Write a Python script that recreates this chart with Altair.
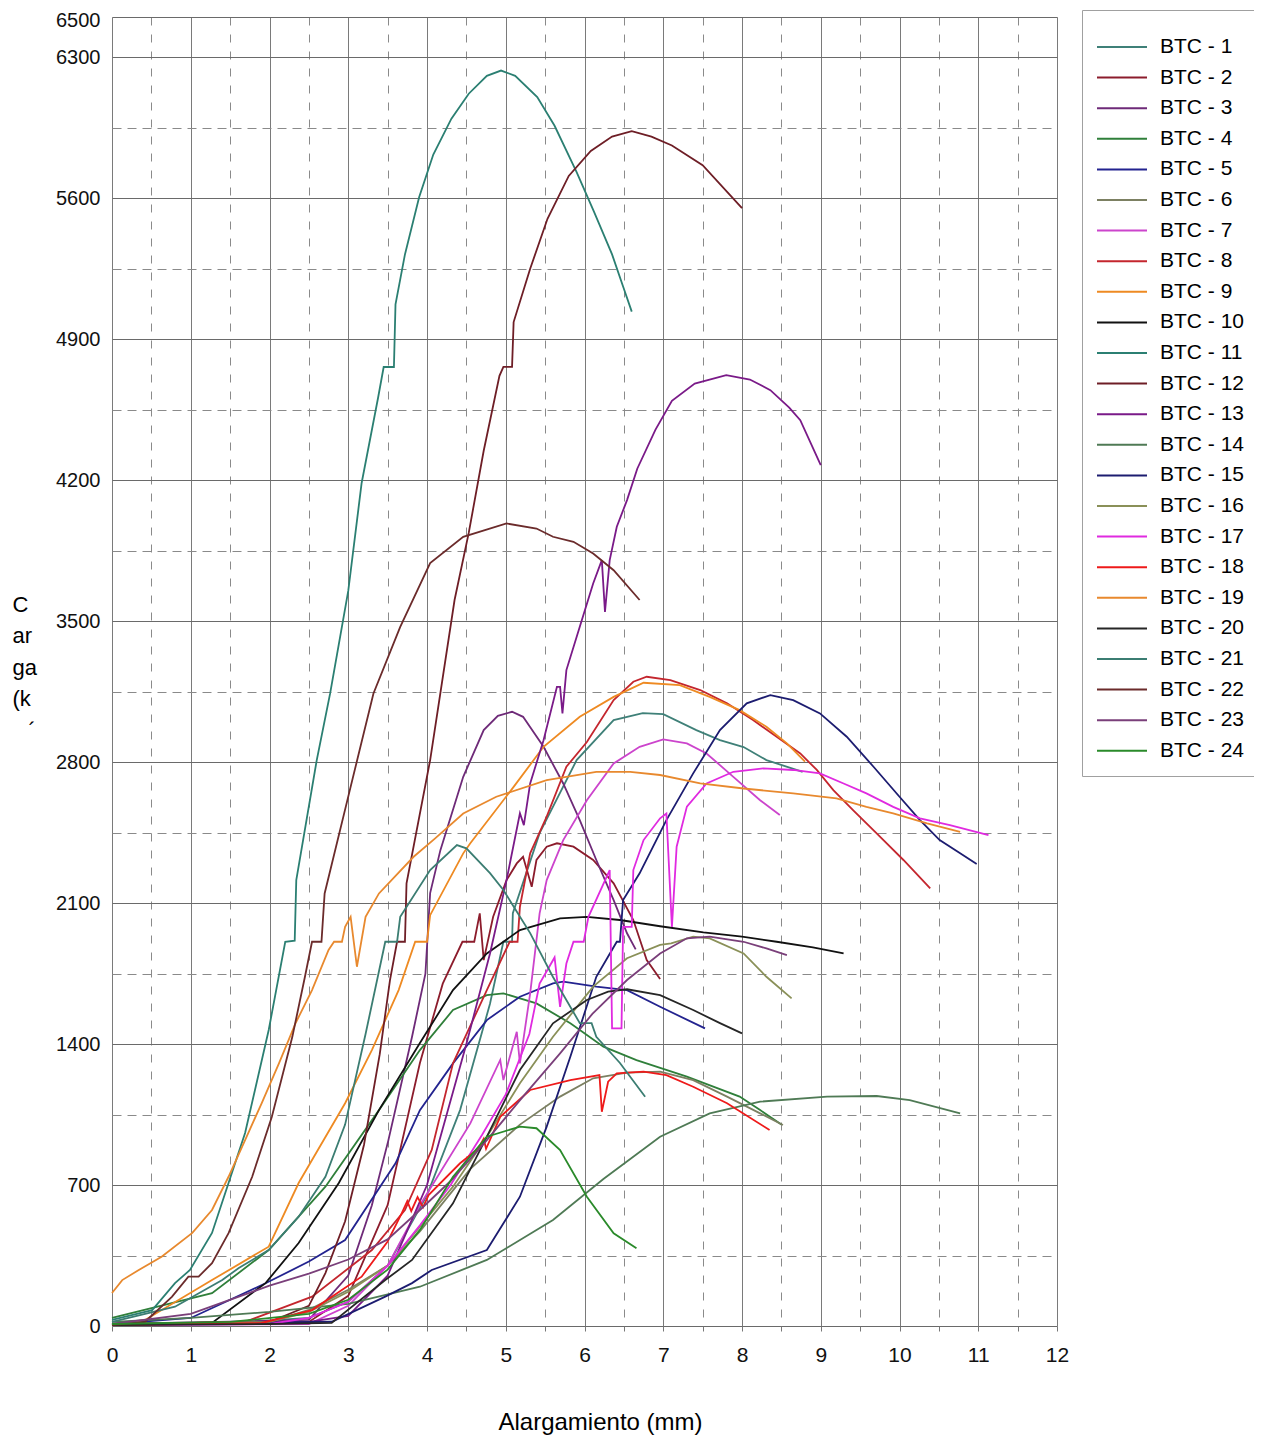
import altair as alt
import pandas as pd

# ---------------- data ----------------
BTC01_X = [0, 1.5, 2.5, 3.0, 3.5, 4.0, 4.42, 4.8, 4.97, 5.08, 5.09, 5.43, 5.9, 6.37, 6.74, 7.0, 7.42, 7.72, 8.02, 8.31, 8.77]
BTC01_Y = [10, 15, 40, 120, 300, 650, 1072, 1600, 1908, 1908, 2050, 2447, 2810, 3009, 3043, 3038, 2959, 2909, 2875, 2810, 2752]

BTC02_X = [0, 2.5, 3.0, 3.5, 3.91, 4.2, 4.45, 4.60, 4.67, 4.72, 4.84, 5.01, 5.14, 5.22, 5.33, 5.39, 5.52, 5.65, 5.86, 6.11, 6.37, 6.62, 6.79, 6.96]
BTC02_Y = [10, 20, 150, 600, 1306, 1700, 1908, 1908, 2049, 1817, 2032, 2214, 2297, 2330, 2181, 2314, 2380, 2397, 2380, 2314, 2198, 2016, 1817, 1723]

BTC03_X = [0, 2.5, 3.0, 3.3, 3.51, 3.81, 3.98, 4.04, 4.17, 4.46, 4.72, 4.9, 5.08, 5.22, 5.48, 5.73, 5.94, 6.15, 6.37, 6.54, 6.65]
BTC03_Y = [10, 30, 250, 600, 923, 1436, 1750, 2150, 2363, 2727, 2959, 3030, 3050, 3025, 2876, 2694, 2512, 2314, 2115, 1950, 1870]

BTC04_X = [0, 1.27, 1.99, 2.71, 3.39, 3.91, 4.33, 4.76, 4.97, 5.39, 5.82, 6.24, 6.66, 7.30, 7.97, 8.23, 8.5]
BTC04_Y = [40, 163, 377, 692, 1072, 1370, 1569, 1643, 1652, 1602, 1503, 1387, 1320, 1238, 1139, 1072, 1000]

BTC05_X = [0, 1.0, 1.95, 2.5, 2.96, 3.60, 3.91, 4.33, 4.76, 5.18, 5.6, 5.73, 6.15, 6.54, 6.96, 7.53]
BTC05_Y = [10, 40, 212, 320, 427, 808, 1072, 1304, 1519, 1635, 1701, 1710, 1685, 1668, 1585, 1478]

BTC06_X = [0, 2.0, 2.5, 3.0, 3.5, 3.91, 4.55, 5.18, 5.69, 6.11, 6.54, 6.96, 7.38, 7.81, 8.23, 8.52]
BTC06_Y = [10, 20, 80, 180, 300, 470, 780, 1000, 1139, 1230, 1258, 1263, 1221, 1139, 1056, 998]

BTC07_X = [0, 2.5, 3.0, 3.5, 3.91, 4.55, 4.93, 4.97, 5.14, 5.18, 5.31, 5.43, 5.52, 5.73, 6.03, 6.37, 6.70, 7.0, 7.30, 7.55, 7.89, 8.23, 8.48]
BTC07_Y = [5, 10, 100, 300, 600, 1006, 1321, 1221, 1461, 1304, 1652, 2049, 2214, 2413, 2611, 2793, 2876, 2913, 2893, 2843, 2727, 2611, 2537]

BTC08_X = [0, 1.69, 2.54, 3.30, 3.72, 4.06, 4.33, 4.76, 5.05, 5.15, 5.18, 5.31, 5.52, 5.77, 6.03, 6.37, 6.62, 6.79, 7.09, 7.47, 7.81, 8.14, 8.44, 8.74, 8.95, 9.16, 9.41, 9.71, 10.05, 10.39]
BTC08_Y = [5, 21, 146, 377, 576, 874, 1304, 1668, 1908, 1908, 2082, 2347, 2529, 2777, 2900, 3108, 3199, 3224, 3207, 3158, 3092, 3009, 2926, 2843, 2761, 2661, 2562, 2446, 2314, 2173]

BTC09_X = [0, 0.42, 1.27, 1.99, 2.37, 2.96, 3.30, 3.64, 3.85, 4.0, 4.04, 4.46, 4.55, 5.10, 5.48, 5.94, 6.37, 6.75, 7.21, 7.59, 7.97, 8.31, 8.57, 8.80]
BTC09_Y = [5, 30, 228, 394, 710, 1106, 1370, 1668, 1908, 1908, 2040, 2347, 2397, 2677, 2876, 3025, 3124, 3194, 3182, 3124, 3058, 2976, 2893, 2802]

BTC10_X = [0, 1.27, 1.95, 2.37, 2.88, 3.39, 3.91, 4.33, 4.76, 5.18, 5.69, 6.03, 6.45, 6.96, 7.51, 8.0, 8.44, 8.9, 9.29]
BTC10_Y = [5, 15, 213, 412, 710, 1072, 1405, 1668, 1850, 1966, 2024, 2032, 2016, 1985, 1955, 1933, 1908, 1880, 1850]

BTC11_X = [0, 0.51, 0.8, 0.99, 1.27, 1.48, 1.69, 1.99, 2.20, 2.32, 2.34, 2.60, 2.77, 3.0, 3.17, 3.38, 3.45, 3.58, 3.60, 3.72, 3.90, 4.08, 4.31, 4.53, 4.76, 4.94, 5.12, 5.40, 5.62, 5.90, 6.12, 6.35, 6.49, 6.60]
BTC11_Y = [30, 79, 213, 278, 462, 710, 958, 1470, 1908, 1913, 2214, 2810, 3141, 3650, 4186, 4612, 4762, 4762, 5073, 5321, 5605, 5817, 5995, 6119, 6208, 6234, 6208, 6102, 5960, 5730, 5534, 5321, 5162, 5037]

BTC12_X = [0, 2.0, 2.5, 2.71, 2.96, 3.2, 3.4, 3.53, 3.62, 3.72, 3.74, 4.04, 4.35, 4.53, 4.72, 4.92, 4.97, 5.08, 5.10, 5.31, 5.53, 5.80, 6.08, 6.35, 6.60, 6.85, 7.11, 7.5, 8.0]
BTC12_Y = [10, 20, 100, 263, 520, 900, 1350, 1718, 1908, 1908, 2198, 2810, 3605, 3938, 4346, 4718, 4763, 4763, 4985, 5250, 5498, 5711, 5835, 5906, 5933, 5906, 5862, 5764, 5551]

BTC13_X = [0, 2.5, 3.0, 3.5, 4.0, 4.5, 4.8, 5.01, 5.18, 5.23, 5.31, 5.48, 5.65, 5.69, 5.72, 5.77, 5.94, 6.11, 6.22, 6.26, 6.32, 6.41, 6.54, 6.67, 6.9, 7.11, 7.4, 7.8, 8.1, 8.36, 8.6, 8.74, 9.0]
BTC13_Y = [10, 20, 50, 250, 700, 1400, 1850, 2214, 2546, 2487, 2694, 2909, 3174, 3174, 3042, 3257, 3472, 3687, 3803, 3546, 3803, 3969, 4101, 4257, 4450, 4594, 4680, 4722, 4700, 4647, 4560, 4498, 4275]

BTC14_X = [0, 1.0, 2.0, 3.0, 3.91, 4.76, 5.60, 6.24, 6.96, 7.59, 8.23, 9.08, 9.71, 10.13, 10.77]
BTC14_Y = [20, 40, 70, 110, 195, 328, 526, 730, 940, 1056, 1114, 1139, 1142, 1122, 1056]

BTC15_X = [0, 2.79, 3.47, 3.81, 4.06, 4.76, 5.18, 5.52, 5.82, 6.15, 6.41, 6.45, 6.49, 6.70, 7.04, 7.38, 7.72, 8.06, 8.36, 8.65, 8.99, 9.33, 9.67, 10.0, 10.26, 10.51, 10.77, 10.98]
BTC15_Y = [10, 21, 146, 213, 278, 377, 642, 990, 1337, 1734, 1908, 1908, 2115, 2248, 2512, 2744, 2959, 3092, 3133, 3108, 3042, 2926, 2777, 2628, 2512, 2413, 2347, 2294]

BTC16_X = [0, 2.0, 2.5, 3.0, 3.5, 3.91, 4.33, 4.76, 5.18, 5.6, 6.11, 6.54, 6.96, 7.1, 7.38, 7.59, 8.02, 8.31, 8.63]
BTC16_Y = [10, 20, 70, 170, 300, 493, 692, 940, 1205, 1436, 1685, 1826, 1892, 1900, 1933, 1925, 1850, 1734, 1627]

BTC17_X = [0, 2.0, 2.5, 3.0, 3.5, 3.91, 4.3, 4.7, 5.0, 5.3, 5.43, 5.62, 5.69, 5.77, 5.86, 5.99, 6.05, 6.32, 6.35, 6.47, 6.49, 6.60, 6.62, 6.75, 6.96, 7.04, 7.11, 7.17, 7.30, 7.55, 7.89, 8.27, 8.65, 8.99, 9.29, 9.58, 9.92, 10.26, 10.64, 11.13]
BTC17_Y = [5, 10, 40, 120, 300, 500, 700, 950, 1150, 1450, 1700, 1830, 1585, 1800, 1908, 1908, 2032, 2264, 1478, 1478, 1982, 1982, 2264, 2413, 2521, 2545, 1982, 2380, 2579, 2694, 2752, 2769, 2761, 2744, 2694, 2645, 2578, 2521, 2487, 2438]

BTC18_X = [0, 1.9, 2.54, 3.17, 3.5, 3.68, 3.75, 3.8, 3.88, 3.95, 4.02, 4.42, 4.65, 4.72, 4.75, 4.93, 5.31, 5.82, 6.19, 6.22, 6.30, 6.41, 6.75, 7.04, 7.38, 7.81, 8.35]
BTC18_Y = [5, 15, 79, 245, 420, 560, 620, 570, 640, 590, 650, 808, 880, 930, 880, 1039, 1172, 1221, 1246, 1064, 1213, 1255, 1263, 1246, 1188, 1106, 973]

BTC19_X = [0, 0.13, 0.34, 0.63, 1.02, 1.27, 1.48, 1.69, 1.90, 2.12, 2.33, 2.54, 2.75, 2.82, 2.92, 2.96, 3.03, 3.11, 3.22, 3.39, 3.83, 4.1, 4.46, 4.88, 5.52, 6.15, 6.58, 6.96, 7.47, 8.02, 8.65, 9.2, 9.58, 9.92, 10.35, 10.77]
BTC19_Y = [164, 228, 278, 344, 462, 576, 741, 923, 1106, 1304, 1503, 1668, 1867, 1908, 1908, 1982, 2032, 1784, 2032, 2148, 2330, 2420, 2545, 2628, 2711, 2752, 2752, 2736, 2694, 2669, 2645, 2620, 2578, 2545, 2496, 2454]

BTC20_X = [0, 2.0, 2.79, 3.47, 3.81, 4.33, 4.76, 5.18, 5.6, 6.03, 6.3, 6.54, 6.96, 7.38, 7.72, 8.0]
BTC20_Y = [5, 10, 15, 228, 328, 609, 940, 1271, 1503, 1619, 1660, 1672, 1643, 1569, 1504, 1453]

BTC21_X = [0, 0.8, 1.40, 1.61, 1.99, 2.37, 2.71, 2.96, 3.22, 3.47, 3.62, 3.66, 4.04, 4.38, 4.50, 4.80, 4.97, 5.31, 5.60, 5.94, 6.09, 6.15, 6.45, 6.77]
BTC21_Y = [20, 96, 228, 288, 377, 543, 741, 1000, 1450, 1908, 1908, 2032, 2264, 2388, 2372, 2249, 2165, 1951, 1733, 1504, 1504, 1436, 1306, 1138]

BTC22_X = [0, 0.42, 0.76, 0.97, 1.10, 1.27, 1.48, 1.78, 2.03, 2.29, 2.45, 2.54, 2.66, 2.70, 3.02, 3.32, 3.66, 4.04, 4.46, 5.01, 5.39, 5.60, 5.86, 6.11, 6.37, 6.70]
BTC22_Y = [5, 21, 145, 245, 245, 312, 461, 741, 1039, 1436, 1734, 1908, 1908, 2148, 2661, 3141, 3472, 3788, 3919, 3985, 3960, 3919, 3894, 3836, 3753, 3605]

BTC23_X = [0, 1.0, 2.0, 2.5, 3.0, 3.5, 3.91, 4.3, 4.76, 5.2, 5.69, 6.1, 6.54, 6.96, 7.30, 7.59, 8.02, 8.31, 8.57]
BTC23_Y = [10, 60, 200, 260, 330, 430, 576, 720, 923, 1130, 1354, 1550, 1718, 1850, 1925, 1933, 1908, 1875, 1842]

BTC24_X = [0, 1.5, 2.5, 3.0, 3.5, 3.91, 4.33, 4.76, 5.18, 5.39, 5.69, 6.03, 6.37, 6.66]
BTC24_Y = [10, 20, 60, 130, 280, 477, 741, 940, 990, 982, 874, 642, 460, 386]

SERIES_NAMES = [f"BTC - {i}" for i in range(1, 25)]
SERIES_COLORS = [
    "#3f8078", "#8c1c2c", "#6e2a78", "#2f7f3a", "#23238f", "#7c8062",
    "#cc44cc", "#c4262e", "#ee8a22", "#111111", "#2b7f72", "#6e1e26",
    "#7a1a88", "#4f7a55", "#1c1c70", "#8a9058", "#e02ae0", "#ee1a1a",
    "#e8892e", "#262626", "#3b7d72", "#6b2b2b", "#7a3f7a", "#2a8a2a",
]
ALL_XY = [
    (BTC01_X, BTC01_Y), (BTC02_X, BTC02_Y), (BTC03_X, BTC03_Y), (BTC04_X, BTC04_Y),
    (BTC05_X, BTC05_Y), (BTC06_X, BTC06_Y), (BTC07_X, BTC07_Y), (BTC08_X, BTC08_Y),
    (BTC09_X, BTC09_Y), (BTC10_X, BTC10_Y), (BTC11_X, BTC11_Y), (BTC12_X, BTC12_Y),
    (BTC13_X, BTC13_Y), (BTC14_X, BTC14_Y), (BTC15_X, BTC15_Y), (BTC16_X, BTC16_Y),
    (BTC17_X, BTC17_Y), (BTC18_X, BTC18_Y), (BTC19_X, BTC19_Y), (BTC20_X, BTC20_Y),
    (BTC21_X, BTC21_Y), (BTC22_X, BTC22_Y), (BTC23_X, BTC23_Y), (BTC24_X, BTC24_Y),
]

X_TICKS = [i * 0.5 for i in range(25)]
Y_TICKS = [i * 350 for i in range(19)] + [6500]
Y_TITLE = ["C", "ar", "ga", "(k", "\u2800\u00b4"]

rows = []
for name, (xs, ys) in zip(SERIES_NAMES, ALL_XY):
    for i, (xv, yv) in enumerate(zip(xs, ys)):
        rows.append({"serie": name, "x": xv, "y": yv, "o": i})
df = pd.DataFrame(rows)

FONT = "Liberation Sans"

x_axis = alt.Axis(
    values=X_TICKS,
    labelExpr="datum.value % 1 == 0 ? format(datum.value, 'd') : ''",
    title="Alargamiento (mm)",
    titleFont=FONT, titleFontSize=24, titleFontWeight="normal", titleColor="#000",
    titleX=488, titleY=96, titleAlign="center", titleBaseline="middle",
    labelFont=FONT, labelFontSize=21, labelColor="#111", labelPadding=13,
    labelFlush=False, labelOverlap=False,
    ticks=True, tickSize=5, tickColor="#777",
    domain=False,
    grid=True,
    gridDash={"condition": {"test": "datum.value % 1 != 0", "value": [8, 9]}, "value": []},
    gridColor={"condition": {"test": "datum.value % 1 != 0", "value": "#8a8a8a"}, "value": "#7a7a7a"},
    gridWidth=1,
)

y_axis = alt.Axis(
    values=Y_TICKS,
    labelExpr="(datum.value % 700 == 0 || datum.value == 6500) ? format(datum.value, 'd') : ''",
    title=Y_TITLE,
    titleFont=FONT, titleFontSize=22, titleFontWeight="normal", titleColor="#000",
    titleAngle=0, titleAlign="left", titleBaseline="top", titleX=-100, titleY=577,
    titleLineHeight=31.5,
    labelFont=FONT, labelFontSize=20, labelColor="#111", labelPadding=12,
    labelOffset={"condition": {"test": "datum.value == 6500", "value": 3}, "value": 0},
    labelFlush=False, labelOverlap=False,
    ticks=False, domain=False,
    grid=True,
    gridDash={"condition": {"test": "datum.value % 700 == 0 || datum.value == 6500", "value": []}, "value": [9, 6]},
    gridColor={"condition": {"test": "datum.value % 700 == 0 || datum.value == 6500", "value": "#6a6a6a"}, "value": "#8a8a8a"},
    gridWidth=1,
)

legend = alt.Legend(
    title=" ", titleFontSize=7, titlePadding=5,
    orient="none", legendX=970, legendY=-7,
    symbolType="stroke", symbolSize=2500, symbolStrokeWidth=2,
    clipHeight=22, rowPadding=8.6, labelOffset=12,
    labelFont=FONT, labelFontSize=21, labelColor="#000", labelLimit=200,
    padding=14, strokeColor="#a0a0a0", fillColor="#ffffff",
)

chart = alt.Chart(df).mark_line(strokeWidth=1.8).encode(
    x=alt.X("x:Q", scale=alt.Scale(domain=[0, 12], nice=False, zero=False), axis=x_axis),
    y=alt.Y("y:Q", scale=alt.Scale(domain=[0, 6500], nice=False, zero=False), axis=y_axis),
    color=alt.Color("serie:N", scale=alt.Scale(domain=SERIES_NAMES, range=SERIES_COLORS),
                    sort=SERIES_NAMES, legend=legend),
    order=alt.Order("o:Q"),
).properties(
    width=945, height=1309,
    autosize=alt.AutoSizeParams(type="none"),
    padding={"left": 104, "top": 9, "right": 197, "bottom": 110},
).configure_view(
    stroke="#7a7a7a", strokeWidth=1
).configure(
    background="#ffffff"
)

chart.save("out.html", embed_options={"renderer": "svg", "actions": False})
